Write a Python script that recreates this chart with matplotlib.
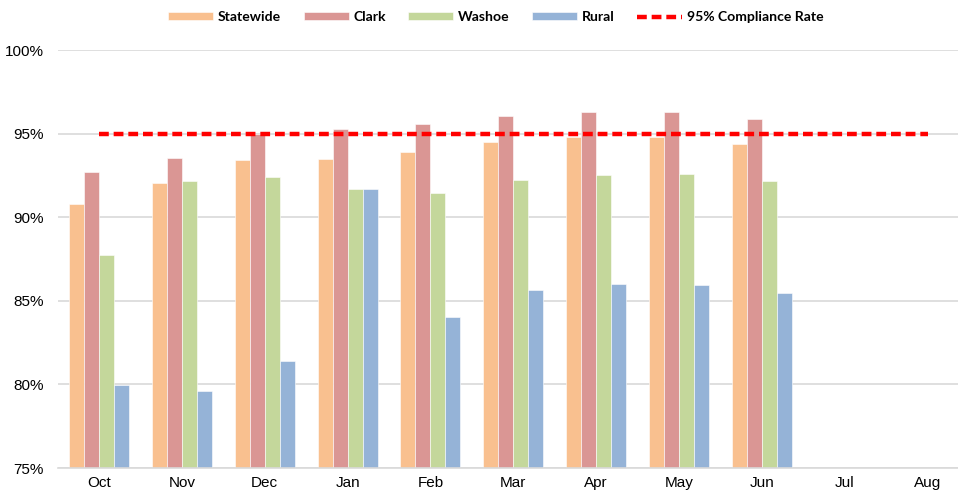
import numpy as np
import matplotlib
matplotlib.use("Agg")
import matplotlib.pyplot as plt
from matplotlib.ticker import FuncFormatter

months = ["Oct", "Nov", "Dec", "Jan", "Feb", "Mar", "Apr", "May", "Jun", "Jul", "Aug"]
statewide = [90.8, 92.07, 93.40, 93.48, 93.92, 94.52, 94.82, 94.82, 94.38, 0, 0]
clark = [92.72, 93.54, 95.0, 95.25, 95.57, 96.03, 96.31, 96.31, 95.85, 0, 0]
washoe = [87.74, 92.15, 92.42, 91.69, 91.47, 92.22, 92.50, 92.58, 92.15, 0, 0]
rural = [79.98, 79.6, 81.4, 91.69, 84.01, 85.65, 86.03, 85.95, 85.45, 0, 0]
target = [95] * len(months)

series = [
    ("Statewide", statewide, "#F9C08F"),
    ("Clark", clark, "#DA9694"),
    ("Washoe", washoe, "#C4D79B"),
    ("Rural", rural, "#95B3D7"),
]

fig = plt.figure(figsize=(9.58, 4.96), dpi=100)
ax = fig.add_axes([57.6 / 958, 1 - 468 / 496, (969 - 57.6) / 958, 418 / 496])

x = np.arange(len(months))
w = 0.181
handles = []
for i, (name, vals, col) in enumerate(series):
    b = ax.bar(x + (i - 1.5) * w, vals, w, color=col, edgecolor="white",
               linewidth=0.4, label=name, zorder=2)
    handles.append(b)

line, = ax.plot(x, target, color="#FF0000", linestyle=(0, (2.2, 1.1)), linewidth=3.2,
                label="95% Compliance Rate", zorder=3)
handles.append(line)

ax.set_xlim(-0.5, len(months) - 0.5)
ax.set_ylim(75, 100)
ax.set_yticks([75, 80, 85, 90, 95, 100])
ax.yaxis.set_major_formatter(FuncFormatter(lambda v, p: f"{v:.0f}%"))
ax.grid(axis="y", color="#D9D9D9", linewidth=1.2, zorder=0)
ax.set_axisbelow(True)
ax.set_xticks(x)
ax.set_xticklabels(months)
for s in ["top", "right", "left"]:
    ax.spines[s].set_visible(False)
ax.spines["bottom"].set_color("#D9D9D9")
ax.spines["bottom"].set_linewidth(1.2)
ax.tick_params(axis="both", length=0, labelsize=11, colors="black", pad=6)
ax.tick_params(axis="y", pad=10)
for lab in ax.get_xticklabels() + ax.get_yticklabels():
    lab.set_fontfamily("Liberation Sans")

fig.legend(handles=handles, loc="center", bbox_to_anchor=(496 / 958, 1 - 17 / 496), ncol=5,
           frameon=False, handlelength=3.2, handleheight=0.5, columnspacing=1.6,
           handletextpad=0.35, prop={"family": "Lato", "weight": "bold", "size": 10.1})

fig.savefig("out.png", dpi=100)
